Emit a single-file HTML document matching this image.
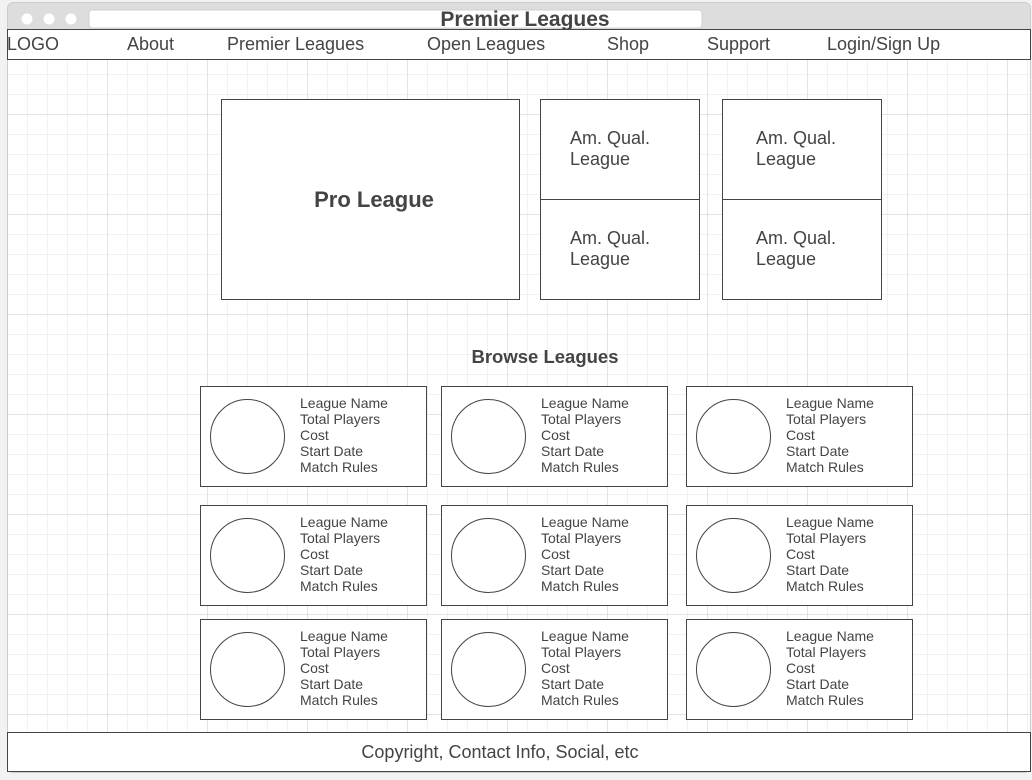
<!DOCTYPE html>
<html><head><meta charset="utf-8"><style>
html,body{margin:0;padding:0;background:#f4f4f4;}
svg{display:block;font-family:"Liberation Sans",sans-serif;}
</style></head><body>
<svg width="1032" height="780" viewBox="0 0 1032 780" xmlns="http://www.w3.org/2000/svg">
<defs>
<pattern id="g" x="7" y="14" width="20" height="20" patternUnits="userSpaceOnUse">
<path d="M0 0H20M0 0V20" stroke="#e4e4e4" stroke-width="1" fill="none"/>
</pattern>
<pattern id="G" x="7" y="14" width="100" height="100" patternUnits="userSpaceOnUse">
<path d="M0 0H100M0 0V100" stroke="#dadada" stroke-width="1.5" fill="none"/>
</pattern>
</defs>
<rect x="0" y="0" width="1032" height="780" fill="#f2f2f2"/>
<rect x="7.5" y="2.5" width="1023" height="770" rx="6" fill="#dddddd" stroke="#cccccc"/>
<rect x="8" y="30" width="1022" height="742" fill="#fff"/>
<rect x="8" y="30" width="1022" height="742" fill="url(#g)"/>
<rect x="8" y="30" width="1022" height="742" fill="url(#G)"/>
<circle cx="27" cy="19" r="5.5" fill="#fff"/>
<circle cx="49" cy="19" r="5.5" fill="#fff"/>
<circle cx="71" cy="19" r="5.5" fill="#fff"/>
<rect x="89" y="10" width="613" height="18" rx="3" fill="#fff" stroke="#d0d0d0"/>
<text x="525" y="26" text-anchor="middle" font-size="21" font-weight="bold" fill="#444">Premier Leagues</text>
<rect x="7.5" y="29.5" width="1023" height="30" fill="#fff" stroke="#444"/>
<g font-size="18" fill="#444">
<text x="7" y="50">LOGO</text>
<text x="127" y="50">About</text>
<text x="227" y="50">Premier Leagues</text>
<text x="427" y="50">Open Leagues</text>
<text x="607" y="50">Shop</text>
<text x="707" y="50">Support</text>
<text x="827" y="50">Login/Sign Up</text>
</g>
<g fill="#fff" stroke="#444">
<rect x="221.5" y="99.5" width="298" height="200"/>
<rect x="540.5" y="99.5" width="159" height="100"/>
<rect x="540.5" y="199.5" width="159" height="100"/>
<rect x="722.5" y="99.5" width="159" height="100"/>
<rect x="722.5" y="199.5" width="159" height="100"/>
</g>
<text x="374" y="207" text-anchor="middle" font-size="22" font-weight="bold" fill="#444">Pro League</text>
<g font-size="18" fill="#444">
<text x="570" y="144">Am. Qual.</text><text x="570" y="165">League</text>
<text x="570" y="244">Am. Qual.</text><text x="570" y="265">League</text>
<text x="756" y="144">Am. Qual.</text><text x="756" y="165">League</text>
<text x="756" y="244">Am. Qual.</text><text x="756" y="265">League</text>
</g>
<text x="545" y="363" text-anchor="middle" font-size="18.5" font-weight="bold" fill="#444">Browse Leagues</text>
<g id="c">
<rect x="200.5" y="386.5" width="226" height="100" fill="#fff" stroke="#444"/>
<circle cx="247.5" cy="436.5" r="37" fill="#fff" stroke="#444"/>
<g font-size="14" fill="#444">
<text x="300" y="408">League Name</text>
<text x="300" y="424">Total Players</text>
<text x="300" y="440">Cost</text>
<text x="300" y="456">Start Date</text>
<text x="300" y="472">Match Rules</text>
</g>
</g>
<use href="#c" x="241" y="0"/>
<use href="#c" x="486" y="0"/>
<use href="#c" x="0" y="119"/>
<use href="#c" x="241" y="119"/>
<use href="#c" x="486" y="119"/>
<use href="#c" x="0" y="233"/>
<use href="#c" x="241" y="233"/>
<use href="#c" x="486" y="233"/>
<rect x="7.5" y="732.5" width="1023" height="39" fill="#fff" stroke="#444"/>
<text x="500" y="758" text-anchor="middle" font-size="18" fill="#444">Copyright, Contact Info, Social, etc</text>
</svg>
</body></html>
